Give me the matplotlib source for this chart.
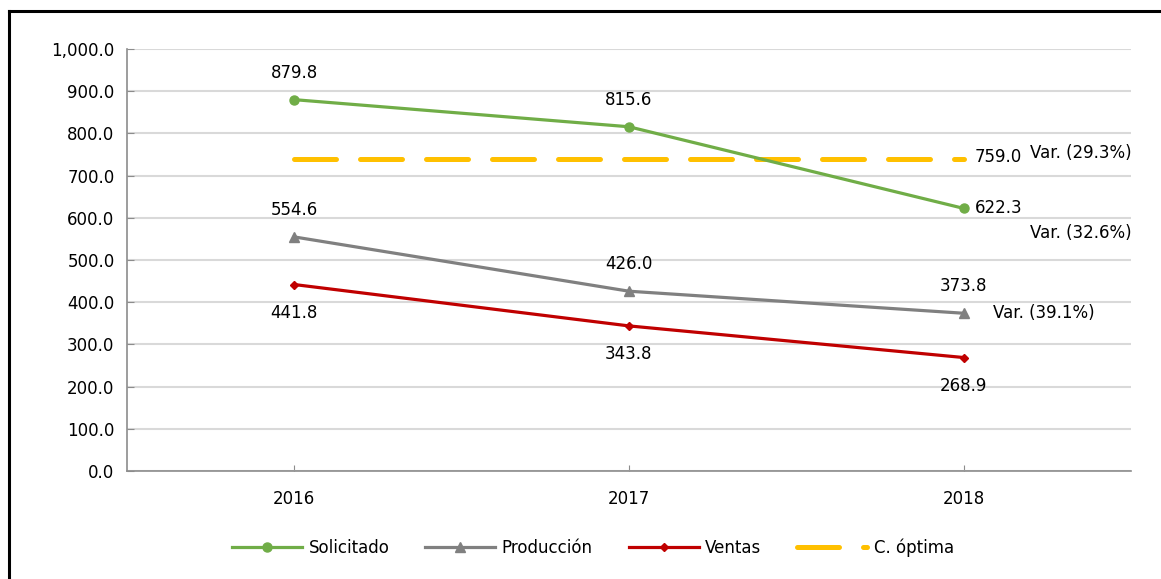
import numpy as np
import matplotlib
matplotlib.use("Agg")
import matplotlib.pyplot as plt
from matplotlib.lines import Line2D
from matplotlib.ticker import FuncFormatter

plt.rcParams['font.family'] = ['DejaVu Sans']

years = ['2016', '2017', '2018']
solicitado = [879.8, 815.6, 622.3]
produccion = [554.6, 426.0, 373.8]
ventas = [441.8, 343.8, 268.9]
c_optima = [740.0, 740.0, 740.0]   # drawn level in the picture
c_optima_label = '759.0'
var_labels = {'c_optima': 'Var. (29.3%)', 'solicitado': 'Var. (32.6%)', 'produccion': 'Var. (39.1%)'}

green = '#70ad47'
grey = '#808080'
red = '#c00000'
yellow = '#ffc000'

fig = plt.figure(figsize=(11.61, 5.79), dpi=100)
ax = fig.add_axes([0.1094, 0.1865, 0.8646, 0.729])
x = np.arange(len(years))

ax.plot(x, solicitado, color=green, lw=2.3, marker='o', ms=6.5, label='Solicitado', zorder=4)
ax.plot(x, produccion, color=grey, lw=2.3, marker='^', ms=6.5, label='Producción', zorder=4)
ax.plot(x, ventas, color=red, lw=2.3, marker='D', ms=4.5, label='Ventas', zorder=4)
lo, = ax.plot(x, c_optima, color=yellow, lw=3.6, label='C. óptima', zorder=3,
              dash_capstyle='round')
lo.set_dashes([8.4, 4.8])

ax.set_xlim(-0.5, 2.5)
ax.set_ylim(0, 1000)
ax.set_yticks(np.arange(0, 1001, 100))
ax.yaxis.set_major_formatter(FuncFormatter(lambda v, p: f'{v:,.1f}'))
ax.set_xticks(x)
ax.set_xticklabels(years)
ax.grid(axis='y', color='#d9d9d9', lw=1.5)
ax.set_axisbelow(True)
for s in ['top', 'right']:
    ax.spines[s].set_visible(False)
for s in ['left', 'bottom']:
    ax.spines[s].set_color('#8c8c8c')
    ax.spines[s].set_linewidth(1.2)
ax.tick_params(axis='y', direction='in', length=5, color='#8c8c8c', labelsize=12, pad=9)
ax.tick_params(axis='x', direction='in', length=4, color='#8c8c8c', labelsize=12, pad=14)

fs = 12
def lab(xi, yi, s, dx, dy, ha='center'):
    ax.annotate(s, (xi, yi), xytext=(dx, dy), textcoords='offset pixels',
                ha=ha, va='center', fontsize=fs)

for i, v in enumerate(solicitado[:2]):
    lab(i, v, f'{v:.1f}', 0, 27)
lab(2, solicitado[2], f'{solicitado[2]:.1f}', 11, 0, 'left')
lab(2, solicitado[2], var_labels['solicitado'], 66, -25, 'left')
for i, v in enumerate(produccion):
    lab(i, v, f'{v:.1f}', 0, 27)
lab(2, produccion[2], var_labels['produccion'], 29, 0, 'left')
for i, v in enumerate(ventas):
    lab(i, v, f'{v:.1f}', 0, -28)
lab(2, c_optima[2], c_optima_label, 11, 2, 'left')
lab(2, c_optima[2], var_labels['c_optima'], 66, 6, 'left')

leg = ax.legend(loc='center', bbox_to_anchor=(593 / 1161, 31 / 579), bbox_transform=fig.transFigure,
                ncol=4, frameon=False, fontsize=12, handlelength=4.2, columnspacing=2.15,
                handletextpad=0.4)

# frame lines at left and top of the picture
fig.add_artist(Line2D([9 / 1161, 9 / 1161], [0, 1 - 11 / 579], transform=fig.transFigure,
                      color='black', lw=2.2))
fig.add_artist(Line2D([9 / 1161, 1], [1 - 11 / 579, 1 - 11 / 579], transform=fig.transFigure,
                      color='black', lw=2.2))

fig.savefig('out.png', dpi=100)
